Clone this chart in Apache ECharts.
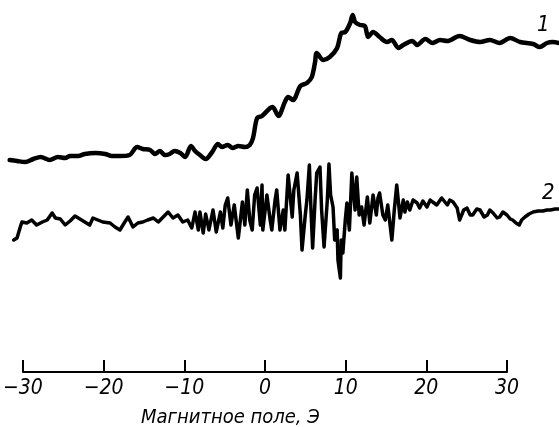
<!DOCTYPE html>
<html>
<head>
<meta charset="utf-8">
<script src="https://cdn.jsdelivr.net/npm/echarts@6/dist/echarts.min.js"></script>
<style>
  html, body { margin: 0; padding: 0; background: #fff; }
  #main { width: 559px; height: 427px; }
</style>
</head>
<body>
<div id="main"></div>
<script>
// кривая 1 — поле (Э), сигнал (отн. ед.)
var fieldA = [-30.9,-30.0,-29.0,-28.0,-27.1,-26.0,-25.0,-24.1,-23.5,-22.5,-21.7,-20.4,-19.2,-18.4,-17.4,-16.2,-15.3,-14.6,-13.7,-13.1,-12.5,-11.9,-11.3,-10.7,-10.0,-9.4,-8.7,-8.2,-7.6,-6.9,-6.1,-5.4,-4.9,-4.2,-3.6,-2.9,-2.1,-1.5,-1.1,-0.6,0.0,1.0,1.3,2.0,2.8,3.2,3.8,4.7,5.5,6.1,6.5,6.7,7.5,8.3,9.2,9.7,10.2,10.8,11.1,11.4,12.0,12.6,13.0,13.6,14.4,15.3,15.9,16.7,17.3,18.4,19.0,20.0,20.9,21.8,22.7,24.2,25.5,26.7,27.9,29.1,30.4,31.6,33.2,34.0,34.9,35.6,36.4];
var signalA = [14.0,13.9,13.8,14.1,14.3,14.0,14.3,14.2,14.4,14.4,14.6,14.7,14.6,14.4,14.4,14.5,15.3,15.1,15.0,14.6,14.9,14.5,14.6,14.9,14.7,14.3,15.4,14.9,14.5,14.1,14.8,15.6,15.3,15.5,15.2,15.4,15.3,15.5,16.2,18.2,18.4,19.2,19.3,18.4,19.8,20.3,20.0,21.4,21.7,22.3,23.8,24.7,24.0,24.3,25.2,26.7,26.8,27.7,28.5,27.8,27.5,27.4,26.3,26.8,26.3,25.8,26.0,25.2,25.5,25.9,25.5,26.1,25.7,26.0,25.9,26.4,26.0,25.8,26.0,25.7,26.2,25.8,25.6,25.3,25.7,25.8,25.7];

// кривая 2
var fieldB = [-30.4,-30.0,-29.6,-29.4,-28.8,-28.2,-27.6,-26.9,-26.3,-25.7,-25.3,-24.7,-24.1,-23.5,-22.9,-22.3,-21.7,-21.1,-20.7,-20.1,-19.5,-18.6,-18.0,-17.4,-16.8,-16.4,-15.8,-15.2,-14.6,-14.0,-13.3,-12.7,-12.1,-11.5,-10.9,-10.3,-9.7,-9.1,
  -8.6,-8.2,-7.8,-7.6,-7.2,-6.9,-6.5,-6.0,-5.6,-5.1,-4.8,-4.5,-4.2,-3.8,-3.4,-2.9,-2.4,-2.1,-1.8,-1.5,-1.2,-0.9,-0.6,-0.2,0.0,0.1,0.6,1.0,1.2,1.6,1.8,2.2,2.6,2.8,3.2,3.7,3.9,4.3,4.7,4.9,5.3,5.5,5.8,6.0,6.2,6.5,6.7,7.1,7.3,7.6,8.0,8.2,8.4,8.7,8.9,9.2,9.3,9.6,9.7,9.9,10.2,10.4,10.7,11.0,11.4,11.6,11.9,12.2,12.5,12.9,13.2,13.6,14.0,14.2,14.4,14.8,15.1,15.4,15.9,16.2,16.5,16.9,17.3,17.5,17.8,18.1,18.5,19.0,19.3,19.7,20.2,20.6,20.9,21.4,22.0,22.7,23.0,23.4,23.9,24.2,24.7,25.1,25.5,25.8,26.3,26.7,27.2,27.6,27.9,28.3,28.8,29.1,29.5,30.0,30.4,30.7,31.1,31.5,31.8,32.2,32.7,33.2,33.8,34.4,34.9,35.3,35.9,36.4];
var signalB = [6.0,6.2,7.3,7.8,7.7,8.0,7.5,7.8,8.0,8.7,8.2,8.1,7.5,7.9,8.4,8.1,7.8,7.5,8.2,8.0,7.8,7.7,7.3,7.0,7.8,8.3,7.3,7.7,7.8,8.0,8.2,7.8,8.3,8.8,8.2,8.5,7.8,8.0,
  7.2,8.8,7.0,8.8,6.7,8.6,7.0,9.0,6.8,8.8,7.2,9.5,10.2,7.5,9.5,6.2,9.8,7.5,11.0,8.0,7.0,10.5,11.2,7.5,11.5,7.0,10.5,8.0,7.0,10.0,11.0,7.0,9.0,7.0,12.5,8.3,11.0,12.7,8.5,5.0,8.5,10.0,13.5,9.0,5.2,10.0,12.7,13.3,9.0,5.3,10.0,13.6,10.5,9.3,6.0,7.0,4.0,2.2,6.0,4.7,8.0,9.7,7.0,12.7,9.0,12.3,8.5,9.3,7.5,10.3,7.7,10.5,8.5,10.2,10.7,8.5,8.0,9.5,6.0,9.0,11.5,8.2,10.0,8.8,9.8,9.0,10.0,9.7,9.2,9.9,9.3,10.0,9.8,9.5,10.2,9.5,10.0,9.8,9.2,8.0,9.0,9.2,8.5,8.5,9.1,9.0,8.3,8.5,9.0,8.7,8.2,8.3,8.8,8.5,8.1,8.0,7.7,7.5,8.0,8.3,8.6,8.8,8.9,8.9,9.0,9.0,9.1,9.1];

var axisTicks = [-30, -20, -10, 0, 10, 20, 30];

function pairs(xs, ys) {
  var out = [];
  for (var i = 0; i < xs.length; i++) out.push([xs[i], ys[i]]);
  return out;
}

var chart = echarts.init(document.getElementById('main'), null, { renderer: 'canvas' });
var font = '"Liberation Sans Narrow", "DejaVu Sans Condensed", sans-serif';

var option = {
  backgroundColor: '#fff',
  animation: false,
  title: {
    text: 'Магнитное поле, Э',
    left: 136,
    top: 403,
    textStyle: { fontFamily: font, fontStyle: 'italic', fontWeight: 'normal', fontSize: 20, color: '#000' }
  },
  grid: [
    // кривые
    { left: 10, right: 0, top: 0, height: 300 },
    // шкала
    { left: 17, right: 52, top: 350, height: 22 }
  ],
  xAxis: [
    { gridIndex: 0, type: 'value', min: -30.86, max: 36.37, show: false },
    {
      gridIndex: 1, type: 'value', min: -30, max: 30, interval: 10,
      position: 'bottom',
      axisLine: { show: true, lineStyle: { color: '#000', width: 2 } },
      axisTick: { show: true, inside: true, length: 12, lineStyle: { color: '#000', width: 2 } },
      splitLine: { show: false },
      axisLabel: {
        margin: 6,
        color: '#000',
        fontFamily: font,
        fontStyle: 'italic',
        fontWeight: 'normal',
        fontSize: 21,
        formatter: function (v) { return axisTicks.indexOf(v) >= 0 ? (v < 0 ? '\u2212' + (-v) : '' + v) : ''; }
      }
    }
  ],
  yAxis: [
    { gridIndex: 0, type: 'value', min: 0, max: 30, show: false },
    { gridIndex: 1, type: 'value', min: 0, max: 1, show: false }
  ],
  graphic: [
    { type: 'text', left: 537, top: 14, style: { text: '1', font: 'italic 22px ' + font, fill: '#000' } },
    { type: 'text', left: 542, top: 182, style: { text: '2', font: 'italic 22px ' + font, fill: '#000' } }
  ],
  series: [
    {
      name: '1', type: 'line', xAxisIndex: 0, yAxisIndex: 0,
      data: pairs(fieldA, signalA),
      showSymbol: false, smooth: 0.3,
      lineStyle: { color: '#000', width: 4.5, join: 'round', cap: 'round' }
    },
    {
      name: '2', type: 'line', xAxisIndex: 0, yAxisIndex: 0,
      data: pairs(fieldB, signalB),
      showSymbol: false, smooth: false,
      lineStyle: { color: '#000', width: 3.5, join: 'round', cap: 'round' }
    }
  ]
};
chart.setOption(option);
</script>
</body>
</html>
